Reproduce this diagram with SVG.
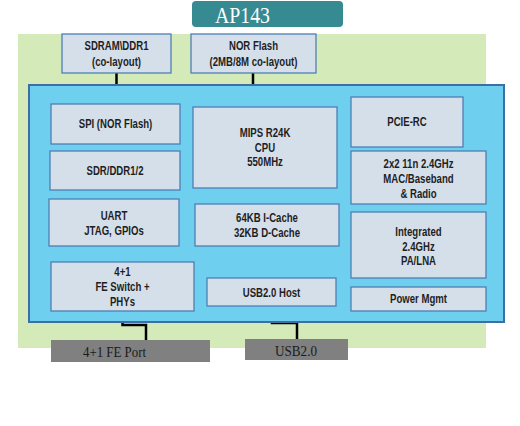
<svg xmlns="http://www.w3.org/2000/svg" width="520" height="426" viewBox="0 0 520 426">
<style>
.box{fill:#d5dfea;stroke:#4f7fb5;stroke-width:1.3}
.t{font-family:"Liberation Sans",Arial,sans-serif;font-size:12px;font-weight:bold;fill:#1e1e1e;text-anchor:middle}
.port{fill:#808080}
.pt{font-family:"Liberation Serif",serif;font-size:15px;fill:#1a1a1a;text-anchor:middle}
.wire{fill:none;stroke:#000;stroke-width:2.5}
</style>
<rect width="520" height="426" fill="#fff"/>
<g id="title">
<rect x="192" y="1" width="151" height="26" rx="4" fill="#368a92"/>
<text x="242.5" y="23" font-family="Liberation Serif,serif" font-size="23" fill="#fff" text-anchor="middle" textLength="55" lengthAdjust="spacingAndGlyphs">AP143</text>
</g>
<rect id="board" x="18" y="34" width="468" height="314" fill="#d4ebb9"/>
<g id="connectors">
<path class="wire" d="M116.5,73V86"/>
<path class="wire" d="M253,73V86"/>
<path class="wire" d="M122.5,311V325H146V340"/>
<path class="wire" d="M272,306V323H297V339"/>
</g>
<g id="sdram"><rect class="box" x="62" y="34" width="109" height="39"/><g transform="translate(116.5,0) scale(0.8,1)"><text class="t" x="0" y="50">SDRAM\DDR1</text><text class="t" x="0" y="66">(co-layout)</text></g></g>
<g id="norflash"><rect class="box" x="191" y="34" width="125" height="39"/><g transform="translate(253.5,0) scale(0.8,1)"><text class="t" x="0" y="50">NOR Flash</text><text class="t" x="0" y="66">(2MB/8M co-layout)</text></g></g>
<g id="chip"><rect x="29" y="85" width="475" height="237" fill="#6fcfee" stroke="#3b6fa6" stroke-width="2"/></g>
<g id="spi"><rect class="box" x="51" y="104" width="129" height="40"/><g transform="translate(115.5,0) scale(0.8,1)"><text class="t" x="0" y="128">SPI (NOR Flash)</text></g></g>
<g id="sdr"><rect class="box" x="50" y="151" width="130" height="39"/><g transform="translate(115,0) scale(0.8,1)"><text class="t" x="0" y="175">SDR/DDR1/2</text></g></g>
<g id="uart"><rect class="box" x="49" y="199" width="130" height="47"/><g transform="translate(114,0) scale(0.8,1)"><text class="t" x="0" y="220">UART</text><text class="t" x="0" y="235">JTAG, GPIOs</text></g></g>
<g id="cpu"><rect class="box" x="193" y="107" width="144" height="81"/><g transform="translate(265,0) scale(0.8,1)"><text class="t" x="0" y="137">MIPS R24K</text><text class="t" x="0" y="152">CPU</text><text class="t" x="0" y="166">550MHz</text></g></g>
<g id="cache"><rect class="box" x="195" y="204" width="144" height="42"/><g transform="translate(267,0) scale(0.8,1)"><text class="t" x="0" y="222">64KB I-Cache</text><text class="t" x="0" y="237">32KB D-Cache</text></g></g>
<g id="pcie"><rect class="box" x="351" y="97" width="112" height="50"/><g transform="translate(407,0) scale(0.8,1)"><text class="t" x="0" y="126">PCIE-RC</text></g></g>
<g id="mac"><rect class="box" x="351" y="151" width="135" height="53"/><g transform="translate(418.5,0) scale(0.8,1)"><text class="t" x="0" y="168">2x2 11n 2.4GHz</text><text class="t" x="0" y="183">MAC/Baseband</text><text class="t" x="0" y="198">&amp; Radio</text></g></g>
<g id="palna"><rect class="box" x="351" y="212" width="135" height="66"/><g transform="translate(418.5,0) scale(0.8,1)"><text class="t" x="0" y="236">Integrated</text><text class="t" x="0" y="251">2.4GHz</text><text class="t" x="0" y="265">PA/LNA</text></g></g>
<g id="power"><rect class="box" x="351" y="287" width="135" height="24"/><g transform="translate(418.5,0) scale(0.8,1)"><text class="t" x="0" y="303">Power Mgmt</text></g></g>
<g id="feswitch"><rect class="box" x="51" y="262" width="143" height="49"/><g transform="translate(122.5,0) scale(0.8,1)"><text class="t" x="0" y="276">4+1</text><text class="t" x="0" y="291">FE Switch +</text><text class="t" x="0" y="306">PHYs</text></g></g>
<g id="usbhost"><rect class="box" x="207" y="278" width="129" height="28"/><g transform="translate(271.5,0) scale(0.8,1)"><text class="t" x="0" y="297">USB2.0 Host</text></g></g>
<g id="feport"><rect class="port" x="51" y="340" width="159" height="22"/><text class="pt" x="114.5" y="357" textLength="63" lengthAdjust="spacingAndGlyphs">4+1 FE Port</text></g>
<g id="usb"><rect class="port" x="245" y="339" width="103" height="21"/><text class="pt" x="296" y="356" textLength="42" lengthAdjust="spacingAndGlyphs">USB2.0</text></g>
</svg>
